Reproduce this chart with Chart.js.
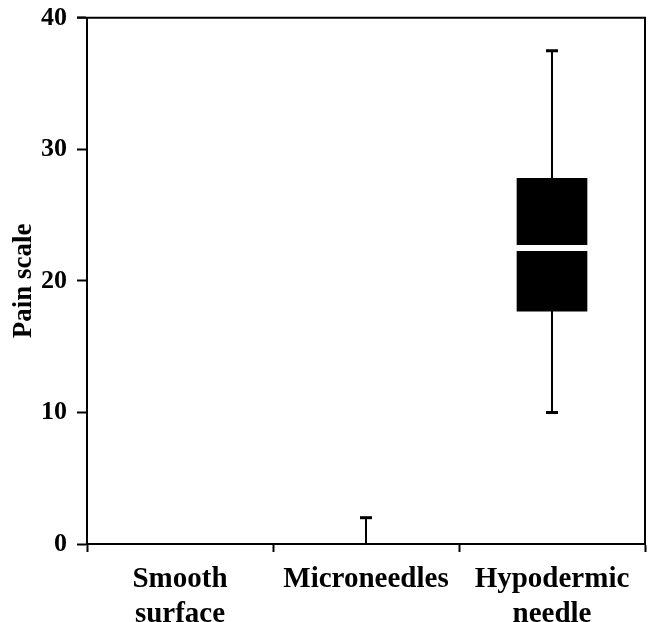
<!DOCTYPE html>
<html>
<head>
<meta charset="utf-8">
<script src="https://cdn.jsdelivr.net/npm/chart.js@4/dist/chart.umd.min.js"></script>
<style>
  html, body { margin: 0; padding: 0; background: #fff; }
  #wrap { width: 655px; height: 622px; }
</style>
</head>
<body>
<div id="wrap"><canvas id="myChart" width="655" height="622"></canvas></div>
<script>
// categories and box-plot statistics
var categories = [['Smooth', 'surface'], 'Microneedles', ['Hypodermic', 'needle']];
var minValues = [0, 0, 10];
var q1Values = [0, 0, 17.7];
var medianValues = [0, 0, 22.5];
var q3Values = [0, 0, 27.8];
var maxValues = [0, 2, 37.5];
var yTicks = [0, 10, 20, 30, 40];

var serif = "'Liberation Serif', 'Times New Roman', serif";

// whiskers, caps and median lines, positioned with the chart's scales
var boxExtras = {
    id: 'boxExtras',
    beforeDatasetsDraw: function (chart) {
        var c = chart.ctx, x = chart.scales.x, y = chart.scales.y;
        c.save();
        c.strokeStyle = '#000';
        for (var i = 0; i < categories.length; i++) {
            if (maxValues[i] === minValues[i]) continue;
            var px = x.getPixelForValue(i);
            c.lineWidth = 2;
            c.beginPath();
            c.moveTo(px, y.getPixelForValue(minValues[i]));
            c.lineTo(px, y.getPixelForValue(maxValues[i]));
            c.stroke();
            c.lineWidth = 3;
            c.beginPath();
            [minValues[i], maxValues[i]].forEach(function (v) {
                if (v === 0) return;
                var py = y.getPixelForValue(v);
                c.moveTo(px - 6, py);
                c.lineTo(px + 6, py);
            });
            c.stroke();
        }
        c.restore();
    },
    afterDatasetsDraw: function (chart) {
        var c = chart.ctx, x = chart.scales.x, y = chart.scales.y;
        var a = chart.chartArea;
        c.save();
        c.strokeStyle = '#fff';
        c.lineWidth = 6;
        for (var i = 0; i < categories.length; i++) {
            if (q3Values[i] === q1Values[i]) continue;
            var px = x.getPixelForValue(i);
            var py = y.getPixelForValue(medianValues[i]);
            c.beginPath();
            c.moveTo(px - 36, py);
            c.lineTo(px + 36, py);
            c.stroke();
        }
        // top and right frame
        c.strokeStyle = '#000';
        c.lineWidth = 2;
        c.beginPath();
        c.moveTo(a.left - 10, a.top);
        c.lineTo(a.right, a.top);
        c.lineTo(a.right, a.bottom);
        c.stroke();
        c.restore();
    }
};

var ctx = document.getElementById('myChart').getContext('2d');
var myChart = new Chart(ctx, {
    type: 'bar',
    data: {
        labels: categories,
        datasets: [{
            label: 'Interquartile range',
            data: q1Values.map(function (q, i) { return [q, q3Values[i]]; }),
            backgroundColor: '#000',
            borderWidth: 0,
            barThickness: 70,
            borderSkipped: false
        }]
    },
    plugins: [boxExtras],
    options: {
        responsive: false,
        animation: false,
        layout: { padding: { top: 16, right: 10 } },
        plugins: {
            legend: { display: false },
            tooltip: { enabled: false }
        },
        scales: {
            x: {
                offset: true,
                afterFit: function (s) { s.height = 78; },
                grid: { offset: true, drawOnChartArea: false, tickLength: 8, color: '#000', tickWidth: 2 },
                border: { display: true, color: '#000', width: 2 },
                ticks: {
                    color: '#000',
                    padding: 10,
                    maxRotation: 0,
                    font: { family: serif, size: 29, weight: 'bold', lineHeight: 1.2 }
                }
            },
            y: {
                min: 0,
                max: 40,
                afterFit: function (s) { s.width = 87; },
                afterBuildTicks: function (s) { s.ticks = yTicks.map(function (v) { return { value: v }; }); },
                grid: { drawOnChartArea: false, tickLength: 10, color: '#000', tickWidth: 2 },
                border: { display: true, color: '#000', width: 2 },
                ticks: {
                    color: '#000',
                    padding: 10,
                    font: { family: serif, size: 26, weight: 'bold', lineHeight: 0.6 }
                },
                title: {
                    display: true,
                    text: 'Pain scale',
                    color: '#000',
                    padding: { top: 8, bottom: 0 },
                    font: { family: serif, size: 27, weight: 'bold' }
                }
            }
        }
    }
});
</script>
</body>
</html>
